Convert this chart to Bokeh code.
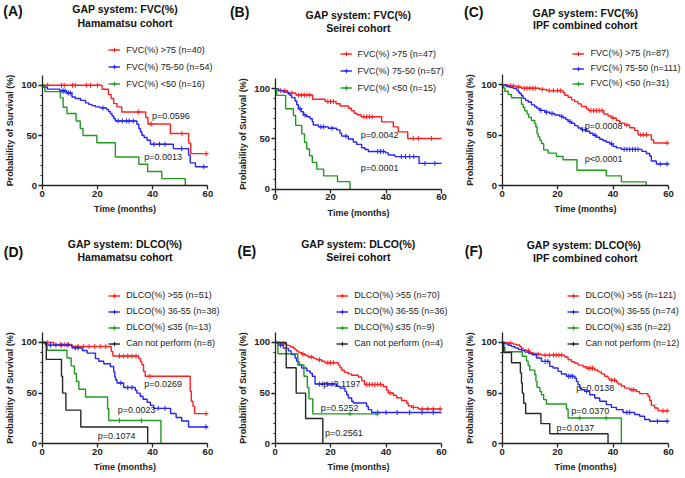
import numpy as np
from bokeh.plotting import figure
from bokeh.models import Range1d, FixedTicker, Label, Legend, LegendItem
from bokeh.layouts import gridplot
from bokeh.embed import file_html
from bokeh.resources import INLINE

FONT = "Liberation Sans"
RED = "#ff2020"
BLUE = "#2525f5"
GREEN = "#1f9a1f"
BLACK = "#262626"
AX = "#222222"

# ---------------- data ----------------
# Panel A: FVC, Hamamatsu
red_A_t = [21.7, 24.0, 25.0, 25.9, 27.1, 28.8, 37.5, 38.3, 46.4, 53.0, 53.8]
red_A_s = [96.0, 90.7, 86.8, 81.8, 78.5, 73.5, 68.0, 61.5, 52.0, 42.5, 32.0]
red_A_c = [2, 7, 8, 11, 12, 16, 17.5, 20, 34.9, 39.5, 50.6, 59.4]
blue_A_t = [0.6, 1.8, 6.4, 8.8, 10.8, 12.0, 13.9, 15.7, 16.9, 18.0, 19.3, 21.0, 23.3, 24.0, 24.7,
            25.3, 25.9, 26.5, 34.3, 35.0, 35.6, 36.1, 36.9, 38.0, 39.2, 47.5, 53.0, 53.6, 55.5]
blue_A_s = [98.1, 96.2, 94.3, 92.4, 88.4, 86.8, 85.0, 82.5, 81.0, 79.8, 78.5, 77.5, 76.0, 74.0, 71.8,
            69.5, 67.0, 64.5, 61.3, 57.0, 53.6, 50.3, 48.0, 45.4, 41.4, 37.0, 30.5, 22.8, 18.9]
blue_A_c = [7.2, 7.8, 8.3, 9.5, 10.2, 22.0, 27.5, 29.0, 30.5, 31.5, 33.0, 40.5, 42.5, 44.5, 50.5, 58.5]
green_A_t = [1.0, 6.6, 7.6, 9.0, 12.3, 13.8, 14.8, 19.8, 26.5, 35.0, 38.2, 43.3, 51.8]
green_A_s = [93.75, 87.5, 78.1, 71.9, 64.5, 57.0, 50.0, 42.9, 28.6, 21.4, 14.3, 7.1, 0.0]
green_A_c = []

# Panel B: FVC, Seirei
red_B_t = [1.2, 4.5, 7.5, 13.5, 18.0, 22.0, 23.5, 26.5, 27.5, 28.5, 29.5, 31.0, 38.4, 42.6, 44.4, 47.8]
red_B_s = [97.9, 95.7, 93.6, 89.4, 87.2, 85.0, 82.8, 80.5, 78.0, 75.5, 74.0, 72.0, 67.0, 62.0, 57.0, 50.5]
red_B_c = [2.0, 3.5, 6.0, 8.5, 9.5, 10.5, 11.5, 12.5, 19.0, 20.0, 21.0, 32.0, 33.0, 34.0, 35.0,
           49.8, 51.6, 56.4]
blue_B_t = [1.2, 3.0, 4.8, 5.4, 6.0, 7.2, 7.8, 8.4, 9.4, 10.2, 11.4, 12.6, 13.4, 13.8, 15.6, 19.2,
            22.2, 23.4, 24.0, 26.4, 28.2, 29.4, 31.2, 32.4, 33.6, 39.8, 40.8, 43.2, 51.9]
blue_B_s = [98.2, 96.5, 94.7, 93.0, 91.0, 87.7, 84.0, 80.0, 77.0, 73.7, 72.0, 70.0, 67.0, 63.8, 62.0,
            60.7, 59.0, 55.5, 52.8, 50.0, 47.0, 44.6, 41.3, 39.6, 37.6, 36.2, 34.0, 32.5, 25.7]
blue_B_c = [9.0, 10.8, 16.5, 17.5, 20.5, 25.5, 37.0, 38.0, 39.0, 45.5, 47.0, 48.5, 50.0, 54.0, 57.6]
green_B_t = [0.6, 3.8, 6.6, 7.4, 9.6, 10.6, 11.4, 12.4, 13.4, 15.0, 17.5, 22.5, 27.0]
green_B_s = [93.3, 80.0, 73.3, 63.5, 55.0, 46.7, 40.0, 33.3, 26.7, 20.0, 13.3, 7.6, 0.0]
green_B_c = []

# Panel C: FVC, IPF combined
red_C_t = [2.2, 5.2, 7.0, 13.6, 16.0, 22.0, 22.6, 23.8, 25.0, 26.2, 27.4, 28.6, 30.4, 31.2, 36.6,
           38.2, 39.4, 41.2, 42.4, 44.2, 46.0, 47.8, 49.0, 53.8, 54.6]
red_C_s = [98.8, 97.7, 96.5, 95.3, 94.1, 92.0, 89.5, 87.5, 85.0, 83.2, 81.0, 78.4, 76.0, 74.4, 71.0,
           69.0, 67.0, 64.5, 62.0, 60.0, 57.4, 54.8, 50.4, 45.6, 42.3]
red_C_c = [3.0, 4.0, 6.0, 8.0, 9.0, 10.0, 11.0, 12.0, 14.5, 17.0, 18.5, 20.0, 21.0, 32.0, 33.0,
           34.0, 35.0, 36.0, 40.0, 45.0, 50.0, 51.0, 52.0, 59.5]
blue_C_t = [1.0, 1.6, 2.8, 4.0, 5.2, 5.8, 6.4, 7.0, 7.6, 8.5, 9.4, 10.6, 11.8, 12.6, 13.6, 15.4, 17.2,
            19.0, 20.8, 22.0, 23.0, 23.8, 25.0, 26.2, 27.4, 28.6, 30.4, 31.6, 32.8, 34.0, 35.2, 36.4,
            37.6, 38.8, 40.0, 41.2, 43.0, 50.4, 52.0, 53.2, 53.8, 55.6]
blue_C_s = [99.1, 98.2, 97.3, 96.4, 94.6, 92.8, 91.0, 89.0, 86.4, 84.5, 82.8, 80.0, 78.2, 76.4, 74.6,
            72.8, 71.5, 70.0, 68.6, 67.3, 65.5, 63.6, 61.8, 59.5, 57.2, 55.5, 54.0, 52.0, 50.0, 48.0,
            46.0, 44.6, 43.0, 41.5, 39.0, 37.5, 36.0, 34.0, 32.0, 29.5, 24.6, 21.6]
blue_C_c = [14.0, 16.0, 18.0, 21.5, 24.5, 29.0, 30.0, 33.5, 39.5, 44.0, 45.0, 46.0, 47.0, 48.0,
            49.0, 57.0, 59.5]
green_C_t = [0.6, 1.0, 2.2, 3.4, 7.0, 7.6, 8.2, 9.0, 9.6, 10.6, 11.8, 12.2, 12.6, 13.0, 13.6, 14.2,
             15.0, 16.6, 19.6, 22.0, 27.0, 37.6, 43.0, 52.0]
green_C_s = [96.8, 93.5, 90.3, 87.1, 80.6, 77.4, 74.2, 71.0, 67.7, 64.5, 61.3, 58.1, 51.6, 48.4,
             45.2, 41.9, 35.5, 32.3, 29.0, 25.8, 15.4, 9.8, 3.9, 0.0]
green_C_c = []

# Panel D: DLCO, Hamamatsu
red_D_t = [4.2, 10.8, 25.0, 25.6, 35.0, 35.6, 36.1, 36.7, 37.3, 53.6, 54.0, 54.6, 55.2]
red_D_s = [98.0, 96.0, 91.0, 86.6, 84.0, 81.0, 78.0, 71.5, 66.6, 51.8, 42.0, 37.0, 29.8]
red_D_c = [2.0, 6.5, 8.0, 9.5, 13.0, 15.0, 17.0, 19.0, 21.0, 23.0, 28.0, 29.5, 31.0, 32.5, 34.0,
           39.0, 59.3]
blue_D_t = [1.2, 10.8, 14.5, 16.3, 19.3, 20.5, 22.3, 24.7, 25.9, 26.3, 26.6, 27.1, 29.5, 33.7, 34.3,
            35.5, 36.5, 38.0, 39.2, 40.4, 46.5, 48.5, 50.5, 53.0]
blue_D_s = [97.4, 94.7, 92.0, 89.5, 84.0, 81.5, 79.0, 76.3, 71.0, 66.0, 63.0, 60.0, 55.6, 52.8, 50.0,
            47.0, 44.0, 41.0, 38.0, 35.0, 30.0, 26.0, 22.5, 16.7]
blue_D_c = [3.0, 5.0, 7.0, 9.0, 12.0, 13.0, 28.5, 31.0, 32.5, 42.0, 44.5, 59.3]
green_D_t = [1.8, 9.0, 10.5, 11.7, 12.4, 13.3, 15.7, 23.7, 24.1, 43.0]
green_D_s = [92.3, 84.6, 76.9, 69.2, 61.5, 53.8, 46.2, 34.6, 23.1, 0.0]
green_D_c = [28.0, 36.0]
black_D_t = [1.5, 7.0, 7.4, 8.6, 14.0, 38.2]
black_D_s = [83.3, 66.7, 50.0, 33.3, 16.7, 0.0]
black_D_c = []

# Panel E: DLCO, Seirei
red_E_t = [1.8, 4.2, 5.4, 6.6, 7.2, 7.8, 8.6, 9.6, 10.8, 12.0, 13.8, 15.0, 16.8, 18.0, 22.8, 23.4,
           24.0, 25.0, 26.4, 27.6, 30.0, 31.2, 32.2, 39.0, 40.2, 40.8, 42.6, 43.8, 45.6, 47.4, 48.0,
           49.2, 51.6]
red_E_s = [98.6, 97.1, 95.7, 94.3, 92.9, 91.4, 90.0, 88.6, 87.1, 85.7, 84.3, 82.9, 81.4, 80.0, 77.6,
           75.0, 72.6, 70.5, 69.0, 67.6, 66.0, 62.4, 58.5, 56.6, 52.9, 50.2, 48.0, 45.5, 42.8, 40.0,
           37.6, 36.0, 34.4]
red_E_c = [3.0, 10.0, 13.0, 16.0, 19.0, 20.0, 21.0, 33.0, 34.0, 35.0, 36.0, 37.0, 38.0, 41.5, 49.8,
           53.0, 55.0, 57.0, 59.5]
blue_E_t = [1.2, 3.0, 4.8, 5.8, 7.2, 7.8, 8.6, 9.6, 11.4, 12.6, 13.4, 14.4, 22.2, 23.4, 25.2, 25.8,
            26.4, 27.6, 28.2, 33.0, 33.6, 34.8]
blue_E_s = [97.2, 94.4, 91.7, 88.0, 84.6, 81.3, 78.0, 74.8, 72.0, 69.8, 66.6, 59.0, 56.7, 55.0, 51.8,
            48.5, 45.2, 42.0, 40.3, 37.0, 33.8, 31.0]
blue_E_c = [2.0, 16.0, 17.0, 19.0, 20.5, 37.0, 40.0, 44.0, 48.5, 53.0, 57.0]
green_E_t = [1.0, 8.2, 10.4, 11.6, 12.2, 13.6]
green_E_s = [88.9, 77.8, 66.7, 55.6, 44.4, 29.6]
green_E_c = [27.0, 36.8]
black_E_t = [4.0, 7.6, 11.0, 17.2]
black_E_s = [75.0, 50.0, 25.0, 0.0]
black_E_c = []

# Panel F: DLCO, IPF combined
red_F_t = [2.2, 4.0, 5.2, 6.4, 7.0, 7.6, 8.8, 10.0, 11.2, 12.6, 14.2, 22.6, 23.8, 25.0, 26.2, 27.4,
           29.2, 30.4, 33.4, 34.6, 35.8, 37.0, 38.2, 38.8, 41.2, 41.8, 43.0, 44.2, 46.0, 48.4, 49.6,
           52.6, 53.2, 53.8, 55.0, 56.2]
red_F_s = [99.2, 98.3, 97.5, 95.8, 94.2, 92.6, 91.7, 90.0, 89.2, 88.4, 87.5, 85.7, 83.0, 81.0, 79.5,
           77.6, 76.0, 74.6, 72.8, 71.0, 69.0, 66.6, 64.6, 62.8, 61.0, 59.0, 57.0, 55.0, 53.4, 51.5,
           49.5, 47.0, 42.7, 38.0, 35.4, 32.5]
red_F_c = [3.0, 9.5, 13.0, 15.5, 17.0, 18.5, 19.5, 20.5, 21.5, 31.0, 31.8, 32.6, 39.5, 40.5, 46.8,
           47.5, 58.0, 59.5]
blue_F_t = [1.0, 2.2, 3.4, 4.6, 5.8, 7.0, 8.2, 9.7, 10.9, 12.4, 14.2, 17.2, 18.4, 20.2, 21.4, 23.2,
            26.2, 26.8, 27.4, 28.0, 28.6, 29.8, 31.6, 33.4, 35.2, 37.6, 39.4, 41.2, 43.6, 47.8, 49.6,
            51.4, 53.2]
blue_F_s = [98.6, 97.3, 95.9, 94.6, 93.2, 91.9, 90.5, 89.0, 87.8, 84.6, 81.3, 76.4, 74.8, 71.5, 68.9,
            66.6, 64.9, 61.6, 58.4, 55.0, 53.4, 51.8, 48.5, 45.2, 42.0, 38.7, 36.0, 33.8, 31.0, 28.9,
            27.2, 24.0, 22.3]
blue_F_c = [15.5, 16.5, 24.0, 24.8, 25.5, 30.5, 45.0, 46.0, 56.0, 59.5]
green_F_t = [0.4, 1.0, 7.3, 8.8, 9.4, 10.0, 11.8, 12.2, 12.6, 13.6, 14.2, 15.0, 16.0, 23.2, 23.8, 43.0]
green_F_s = [95.5, 90.9, 86.4, 81.8, 77.3, 72.7, 68.2, 61.6, 55.7, 51.8, 48.5, 43.6, 39.3, 34.4,
             25.5, 0.0]
green_F_c = [28.0, 37.5]
black_F_t = [0.6, 3.4, 6.6, 7.0, 7.3, 7.8, 8.5, 14.0, 17.2, 38.2]
black_F_s = [90.0, 80.0, 70.0, 60.0, 50.0, 40.0, 30.0, 20.0, 10.0, 0.0]
black_F_c = []

fvc_labels_A = ["FVC(%) >75 (n=40)", "FVC(%) 75-50 (n=54)", "FVC(%) <50 (n=16)"]
fvc_labels_B = ["FVC(%) >75 (n=47)", "FVC(%) 75-50 (n=57)", "FVC(%) <50 (n=15)"]
fvc_labels_C = ["FVC(%) >75 (n=87)", "FVC(%) 75-50 (n=111)", "FVC(%) <50 (n=31)"]
dlco_labels_D = ["DLCO(%) >55 (n=51)", "DLCO(%) 36-55 (n=38)", "DLCO(%) \u226435 (n=13)", "Can not perform (n=8)"]
dlco_labels_E = ["DLCO(%) >55 (n=70)", "DLCO(%) 36-55 (n=36)", "DLCO(%) \u226435 (n=9)", "Can not perform (n=4)"]
dlco_labels_F = ["DLCO(%) >55 (n=121)", "DLCO(%) 36-55 (n=74)", "DLCO(%) \u226435 (n=22)", "Can not perform (n=12)"]

pvals_A = ["p=0.0596", "p=0.0013"]
pvals_B = ["p=0.0042", "p=0.0001"]
pvals_C = ["p=0.0008", "p<0.0001"]
pvals_D = ["p=0.0269", "p=0.0023", "p=0.1074"]
pvals_E = ["p=0.1197", "p=0.5252", "p=0.2561"]
pvals_F = ["p=0.0138", "p=0.0370", "p=0.0137"]

# ---------------- layout (reference-pixel geometry) ----------------
SX, SY = 684 / 685, 477 / 478
COLW = 228
ROWH = [222, 255]

panels = [
    dict(letter="(A)", t1="GAP system: FVC(%)", t2="Hamamatsu cohort", col=0, row=0,
         fl=41.7, fr=207.7, ft=74.9, fb=185.7, lx=12.5, ly=11, ty1=9, ty2=22.5,
         curves=[(red_A_t, red_A_s, red_A_c, 60, RED), (blue_A_t, blue_A_s, blue_A_c, 60, BLUE),
                 (green_A_t, green_A_s, green_A_c, 51.8, GREEN)],
         labels=fvc_labels_A, leg=(108.3, 50, 17.5),
         pvals=pvals_A, ppos=[(151.7, 116), (144, 156.7)]),
    dict(letter="(B)", t1="GAP system: FVC(%)", t2="Seirei cohort", col=1, row=0,
         fl=275, fr=441.7, ft=78.2, fb=189.2, lx=239.5, ly=11.7, ty1=14.5, ty2=27.5,
         curves=[(red_B_t, red_B_s, red_B_c, 60, RED), (blue_B_t, blue_B_s, blue_B_c, 60, BLUE),
                 (green_B_t, green_B_s, green_B_c, 27.0, GREEN)],
         labels=fvc_labels_B, leg=(340, 54, 16.7),
         pvals=pvals_B, ppos=[(360.7, 135), (360.7, 168.3)]),
    dict(letter="(C)", t1="GAP system: FVC(%)", t2="IPF combined cohort", col=2, row=0,
         fl=502.3, fr=669, ft=74.2, fb=185.7, lx=474, ly=11.7, ty1=12.5, ty2=25,
         curves=[(red_C_t, red_C_s, red_C_c, 60, RED), (blue_C_t, blue_C_s, blue_C_c, 60, BLUE),
                 (green_C_t, green_C_s, green_C_c, 52.0, GREEN)],
         labels=fvc_labels_C, leg=(573.3, 53.3, 15.5),
         pvals=pvals_C, ppos=[(585, 126), (585, 159.3)]),
    dict(letter="(D)", t1="GAP system: DLCO(%)", t2="Hamamatsu cohort", col=0, row=1,
         fl=41.7, fr=207.7, ft=332.5, fb=444.3, lx=13, ly=251.7, ty1=244.5, ty2=257.5,
         curves=[(red_D_t, red_D_s, red_D_c, 60, RED), (blue_D_t, blue_D_s, blue_D_c, 60, BLUE),
                 (green_D_t, green_D_s, green_D_c, 43.0, GREEN), (black_D_t, black_D_s, black_D_c, 38.2, BLACK)],
         labels=dlco_labels_D, leg=(108.3, 296, 15.8),
         pvals=pvals_D, ppos=[(144, 384.3), (117.3, 410), (97.3, 436.7)]),
    dict(letter="(E)", t1="GAP system: DLCO(%)", t2="Seirei cohort", col=1, row=1,
         fl=275, fr=441.7, ft=332.5, fb=444.3, lx=246.7, ly=251.5, ty1=244.5, ty2=257.5,
         curves=[(red_E_t, red_E_s, red_E_c, 60, RED), (blue_E_t, blue_E_s, blue_E_c, 60, BLUE),
                 (green_E_t, green_E_s, green_E_c, 37.0, GREEN), (black_E_t, black_E_s, black_E_c, 17.2, BLACK)],
         labels=dlco_labels_E, leg=(336.7, 296, 15.8),
         pvals=pvals_E, ppos=[(323.3, 384.3), (320.7, 408.3), (325, 433.3)]),
    dict(letter="(F)", t1="GAP system:  DLCO(%)", t2="IPF combined cohort", col=2, row=1,
         fl=502.3, fr=669, ft=332.5, fb=444.3, lx=474, ly=251.5, ty1=245, ty2=258,
         curves=[(red_F_t, red_F_s, red_F_c, 60, RED), (blue_F_t, blue_F_s, blue_F_c, 60, BLUE),
                 (green_F_t, green_F_s, green_F_c, 43.0, GREEN), (black_F_t, black_F_s, black_F_c, 38.2, BLACK)],
         labels=dlco_labels_F, leg=(568.3, 296, 15.8),
         pvals=pvals_F, ppos=[(576.7, 388.3), (571.7, 411.7), (556.7, 428.3)]),
]


def surv_at(times, surv, c):
    vals = [100.0] + list(surv)
    return vals[int(np.searchsorted(np.asarray(times), c, side="right"))]


def make_panel(sp):
    W = COLW
    H = ROWH[sp["row"]]
    cx = sp["col"] * COLW
    ry = 0 if sp["row"] == 0 else ROWH[0]
    L = SX * sp["fl"] - cx
    R = SX * sp["fr"] - cx
    T = SY * sp["ft"] - ry
    B = SY * sp["fb"] - ry
    kx = (R - L) / 60.0
    ky = (B - T) / 110.0
    p = figure(width=W, height=H,
               x_range=Range1d(-L / kx, (W - L) / kx),
               y_range=Range1d(-(H - B) / ky, B / ky),
               output_backend="svg", toolbar_location=None,
               min_border_left=0, min_border_right=0, min_border_top=0, min_border_bottom=0)
    p.outline_line_color = None
    p.xgrid.visible = False
    p.ygrid.visible = False
    p.background_fill_color = "white"
    p.border_fill_color = "white"
    p.xaxis.ticker = FixedTicker(ticks=[0, 20, 40, 60], minor_ticks=[])
    p.yaxis.ticker = FixedTicker(ticks=[0, 50, 100], minor_ticks=[10, 20, 30, 40, 60, 70, 80, 90])
    p.xaxis.fixed_location = 0
    p.yaxis.fixed_location = 0
    p.xaxis.bounds = (0, 60)
    p.yaxis.bounds = (0, 110)
    p.xaxis.axis_label = "Time (months)"
    p.yaxis.axis_label = "Probability of Survival (%)"
    for ax in (p.xaxis[0], p.yaxis[0]):
        ax.axis_line_color = AX
        ax.axis_line_width = 1.3
        ax.major_tick_line_color = AX
        ax.major_tick_line_width = 1.3
        ax.minor_tick_line_color = AX
        ax.minor_tick_line_width = 1.0
        ax.major_tick_in = 0
        ax.major_tick_out = 4
        ax.minor_tick_in = 0
        ax.minor_tick_out = 2
        ax.major_label_text_font = FONT
        ax.major_label_text_font_style = "bold"
        ax.major_label_text_font_size = "9.5px"
        ax.major_label_text_color = AX
        ax.major_label_standoff = 1
        ax.axis_label_text_font = FONT
        ax.axis_label_text_font_style = "bold"
        ax.axis_label_text_font_size = "9px"
        ax.axis_label_text_color = AX
        ax.axis_label_standoff = 4

    fw = sp["fr"] - sp["fl"]
    fh = sp["fb"] - sp["ft"]

    def data_xy(xr, yr):
        return (xr - sp["fl"]) / fw * 60.0, (sp["fb"] - yr) / fh * 110.0

    items = []
    for (tt, ss, cc, end, col), lab in zip(sp["curves"], sp["labels"]):
        xs = [0.0] + list(tt) + [end]
        ys = [100.0] + list(ss) + [ss[-1]]
        r1 = p.step(x=xs, y=ys, mode="after", line_color=col, line_width=1.4)
        if len(cc):
            r2 = p.scatter(x=list(cc), y=[surv_at(tt, ss, c) for c in cc], marker="cross",
                           size=5, line_color=col, line_width=1.0)
        else:
            # legend-only censor glyph (curve has no censored points)
            r2 = p.scatter(x=[end], y=[ss[-1]], marker="cross", size=5, line_color=col,
                           line_width=1.0, visible=False)
        items.append(LegendItem(label=lab, renderers=[r1, r2]))

    # legend
    gx, y1, pitch = sp["leg"]
    n = len(items)
    h = 11
    spacing = round(SY * pitch - h)
    top = SY * y1 - ry - h / 2
    bottom = top + n * h + (n - 1) * spacing
    vx = SX * gx - cx
    vy = H - bottom
    leg = Legend(items=items, location=(vx, vy), padding=0, margin=0, spacing=spacing,
                 glyph_width=12, glyph_height=h, label_height=h, label_standoff=6,
                 label_text_font=FONT, label_text_font_size="9px", label_text_color=AX,
                 background_fill_alpha=0, border_line_alpha=0, inactive_fill_alpha=0)
    p.add_layout(leg, "center")

    # titles and letters
    for text, yy in ((sp["t1"], sp["ty1"]), (sp["t2"], sp["ty2"])):
        x_, y_ = data_xy((sp["fl"] + sp["fr"]) / 2, yy)
        p.add_layout(Label(x=x_, y=y_, text=text, text_font=FONT, text_font_style="bold",
                           text_font_size="10.5px", text_align="center", text_baseline="middle",
                           text_color="#111111"))
    x_, y_ = data_xy(sp["lx"], sp["ly"])
    p.add_layout(Label(x=x_, y=y_, text=sp["letter"], text_font=FONT, text_font_style="bold",
                       text_font_size="14px", text_align="center", text_baseline="middle",
                       text_color="#111111"))
    for txt, (xr, yr) in zip(sp["pvals"], sp["ppos"]):
        x_, y_ = data_xy(xr, yr)
        p.add_layout(Label(x=x_, y=y_, text=txt, text_font=FONT, text_font_size="9px",
                           text_align="left", text_baseline="middle", text_color=AX))
    return p


figs = [make_panel(sp) for sp in panels]
grid = gridplot([figs[:3], figs[3:]], toolbar_location=None)
open("out.html", "w").write(file_html(grid, INLINE))
